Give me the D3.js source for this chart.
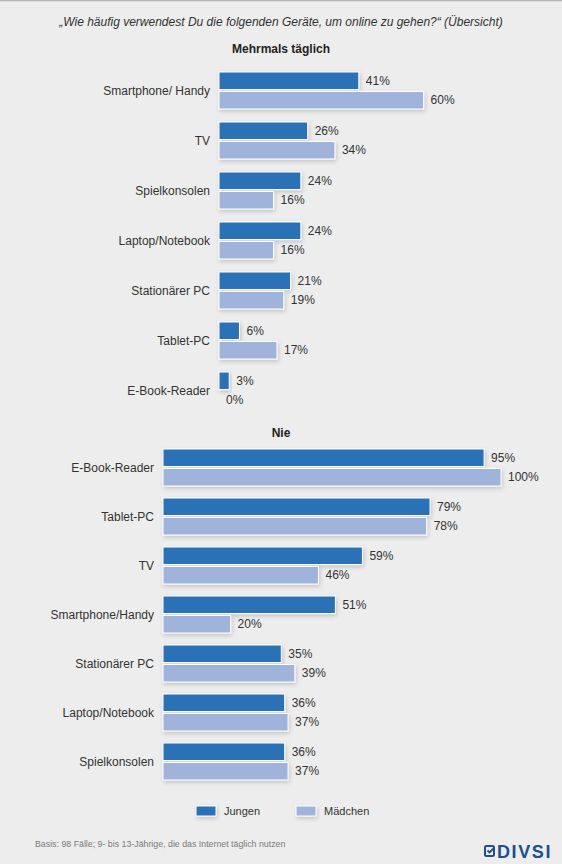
<!DOCTYPE html>
<html>
<head>
<meta charset="utf-8">
<script src="https://cdn.jsdelivr.net/npm/d3@7"></script>
<style>
  body { margin: 0; background: #ededed; }
  svg { display: block; font-family: "Liberation Sans", Arial, sans-serif; }
</style>
</head>
<body>
<svg id="chart" width="562" height="864"></svg>
<script>
// values
const topCategories = ["Smartphone/ Handy", "TV", "Spielkonsolen", "Laptop/Notebook", "Stationärer PC", "Tablet-PC", "E-Book-Reader"];
const topJungen = [41, 26, 24, 24, 21, 6, 3];
const topMaedchen = [60, 34, 16, 16, 19, 17, 0];

const bottomCategories = ["E-Book-Reader", "Tablet-PC", "TV", "Smartphone/Handy", "Stationärer PC", "Laptop/Notebook", "Spielkonsolen"];
const bottomJungen = [95, 79, 59, 51, 35, 36, 36];
const bottomMaedchen = [100, 78, 46, 20, 39, 37, 37];

const seriesNames = ["Jungen", "Mädchen"];
const colors = ["#2a72b5", "#a0b3da"];

const svg = d3.select("#chart");
const W = 562;

// background + thin top border
svg.append("rect").attr("width", W).attr("height", 864).attr("fill", "#ededed");
svg.append("line").attr("x1", 0).attr("x2", W).attr("y1", 0.5).attr("y2", 0.5)
    .attr("stroke", "#b5b5b5").attr("stroke-width", 1.5);

// soft shadow under the bars
const defs = svg.append("defs");
defs.append("filter").attr("id", "shadow")
    .attr("x", "-10%").attr("y", "-30%").attr("width", "130%").attr("height", "190%")
    .append("feDropShadow")
    .attr("dx", 1).attr("dy", 2).attr("stdDeviation", 2)
    .attr("flood-color", "#000").attr("flood-opacity", 0.18);

svg.append("text")
    .attr("x", 281).attr("y", 26)
    .attr("text-anchor", "middle")
    .attr("font-size", 12).attr("font-style", "italic").attr("fill", "#333")
    .text("„Wie häufig verwendest Du die folgenden Geräte, um online zu gehen?“ (Übersicht)");

function drawSection(title, titleY, cats, jungen, maedchen, x0, x1, y0, step) {
    const x = d3.scaleLinear().domain([0, 100]).range([x0, x1]);
    const y = d3.scaleBand().domain(cats).range([y0, y0 + step * cats.length]).paddingInner(0);
    const inner = d3.scaleBand().domain(seriesNames).range([0, 37]).paddingInner(0.1);

    svg.append("text")
        .attr("x", 281).attr("y", titleY)
        .attr("text-anchor", "middle")
        .attr("font-size", 12).attr("font-weight", "bold").attr("fill", "#222")
        .text(title);

    const rows = cats.map((c, i) => ({ cat: c, vals: [jungen[i], maedchen[i]] }));

    const g = svg.append("g");
    const row = g.selectAll("g.row").data(rows).join("g")
        .attr("class", "row")
        .attr("transform", d => `translate(0,${y(d.cat)})`);

    row.append("text")
        .attr("x", x0 - 9).attr("y", 18.5)
        .attr("dy", "0.35em")
        .attr("text-anchor", "end")
        .attr("font-size", 12).attr("fill", "#333")
        .text(d => d.cat);

    const bar = row.selectAll("g.bar")
        .data(d => d.vals.map((v, k) => ({ v: v, s: seriesNames[k], k: k })))
        .join("g").attr("class", "bar");

    bar.append("rect")
        .attr("x", x(0))
        .attr("y", d => inner(d.s))
        .attr("width", d => x(d.v) - x(0))
        .attr("height", inner.bandwidth())
        .attr("fill", d => colors[d.k])
        .attr("stroke", "#fff").attr("stroke-width", 1)
        .attr("filter", d => d.v > 0 ? "url(#shadow)" : null);

    bar.append("text")
        .attr("x", d => x(d.v) + 7)
        .attr("y", d => inner(d.s) + inner.bandwidth() / 2)
        .attr("dy", "0.35em")
        .attr("font-size", 12).attr("fill", "#333")
        .text(d => d.v + "%");
}

drawSection("Mehrmals täglich", 53, topCategories, topJungen, topMaedchen, 219, 560, 72, 50);
drawSection("Nie", 437, bottomCategories, bottomJungen, bottomMaedchen, 163, 501, 449, 49);

// legend
const legendX = [196, 296];
const legend = svg.append("g").selectAll("g").data(seriesNames).join("g")
    .attr("transform", (d, i) => `translate(${legendX[i]},806)`);
legend.append("rect")
    .attr("width", 20).attr("height", 10)
    .attr("fill", (d, i) => colors[i])
    .attr("stroke", "#fff").attr("stroke-width", 1)
    .attr("filter", "url(#shadow)");
legend.append("text")
    .attr("x", 28).attr("y", 5).attr("dy", "0.35em")
    .attr("font-size", 11).attr("fill", "#333")
    .text(d => d);

// footer
svg.append("text")
    .attr("x", 35).attr("y", 847)
    .attr("font-size", 8.8).attr("fill", "#7a7a7a")
    .text("Basis: 98 Fälle; 9- bis 13-Jährige, die das Internet täglich nutzen");

const logo = svg.append("g").attr("transform", "translate(484,845)");
logo.append("rect")
    .attr("x", 1).attr("y", 1).attr("width", 9).attr("height", 10).attr("rx", 1.5)
    .attr("fill", "none").attr("stroke", "#1e4f8f").attr("stroke-width", 2);
logo.append("path")
    .attr("d", "M3.5,5.5 L5.5,7.5 L10,3")
    .attr("fill", "none").attr("stroke", "#1e4f8f").attr("stroke-width", 1.8);
logo.append("text")
    .attr("x", 13).attr("y", 12.5)
    .attr("font-size", 18).attr("font-weight", "bold").attr("fill", "#1e4f8f")
    .attr("letter-spacing", 1.6)
    .text("DIVSI");
</script>
</body>
</html>
